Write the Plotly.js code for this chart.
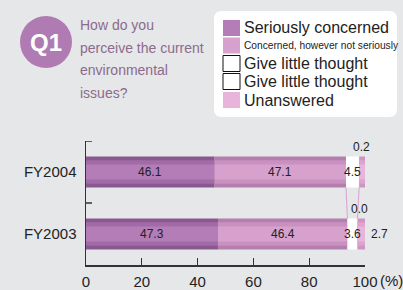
<!DOCTYPE html>
<html>
<head>
<meta charset="utf-8">
<script src="https://cdn.plot.ly/plotly-3.0.1.min.js"></script>
<style>
html,body{margin:0;padding:0;background:#e6e7e9;}
#chart{width:403px;height:290px;}
</style>
</head>
<body>
<div id="chart"></div>
<script>
// ---- data ----
const years = ["FY2004", "FY2003"];
const seriesNames = ["Seriously concerned", "Concerned, however not seriously", "Give little thought", "Give little thought", "Unanswered"];
const seriously = [46.1, 47.3];
const concerned = [47.1, 46.4];
const littleA = [4.5, 3.6];
const littleB = [0.2, 0.0];
const unanswered = [2.2, 2.7];
const xTicks = [0, 20, 40, 60, 80, 100];
const questionLines = ["How do you", "perceive the current", "environmental", "issues?"];

// ---- styles ----
const FONT = "Liberation Sans, Arial, sans-serif";
const edgeCols = ["#8a5891", "#b47fae", "#ffffff", "#ffffff", "#cf94c3"];
const midCols  = ["#a06ba6", "#c991c0", "#ffffff", "#ffffff", "#dea4d0"];
const ctrCols  = ["#b57db8", "#d7a1cd", "#ffffff", "#ffffff", "#e9b4da"];
const series = [seriously, concerned, littleA, littleB, unanswered];

const traces = [];
const cum = years.map(() => 0);
const starts = [];
series.forEach((vals, si) => {
  const base = cum.slice();
  starts.push(base);
  const layers = (si === 2 || si === 3) ? [[0.5, edgeCols[si]]] :
    [[0.5, edgeCols[si]], [0.38, midCols[si]], [0.24, ctrCols[si]]];
  layers.forEach(([w, c]) => {
    traces.push({
      type: "bar", orientation: "h", y: years, x: vals, base: base,
      width: w, marker: {color: c, line: {width: 0}},
      showlegend: false, hoverinfo: "skip"
    });
  });
  vals.forEach((v, i) => cum[i] += v);
});

// connector lines between bars
const conn2 = [starts[2][0], starts[2][1]];
const conn4 = [starts[4][0], starts[4][1]];
[conn2, conn4].forEach(xs => {
  traces.push({
    type: "scatter", mode: "lines", x: xs, y: [0.25, 0.75],
    xaxis: "x", yaxis: "y2",
    line: {color: "#d9a3d0", width: 1}, showlegend: false, hoverinfo: "skip"
  });
});

const annotations = [];
years.forEach((yr, i) => {
  const lab = (x, txt, opts) => annotations.push(Object.assign({
    x: x, y: i, xref: "x", yref: "y", text: txt, showarrow: false,
    font: {family: FONT, size: 12, color: "#222"}
  }, opts || {}));
  lab(starts[0][i] + seriously[i] / 2, seriously[i].toFixed(1));
  lab(starts[1][i] + concerned[i] / 2, concerned[i].toFixed(1));
  lab(starts[2][i] + littleA[i] / 2, littleA[i].toFixed(1));
  lab(starts[4][i] + 0.9, littleB[i].toFixed(1), {y: i - 0.25, yanchor: "bottom", yshift: 1});
  lab(starts[4][i] + unanswered[i], unanswered[i].toFixed(1), {xanchor: "left", xshift: 4});
});
// (%) unit
annotations.push({x: 100, y: 0, xref: "x", yref: "paper", text: "(%)", showarrow: false,
  xanchor: "left", yanchor: "top", xshift: 13, yshift: -5,
  font: {family: FONT, size: 15, color: "#222"}});

// question text
questionLines.forEach((t, k) => annotations.push({
  x: 78, y: 25 + k * 22.6, text: t, showarrow: false,
  xanchor: "left", yanchor: "middle",
  font: {family: FONT, size: 14, color: "#8c6b8c"}
}));
// Q1 label
annotations.push({x: 46, y: 42, text: "<b>Q1</b>", showarrow: false, xanchor: "center", yanchor: "middle",
  font: {family: FONT, size: 24, color: "#ffffff"}});

// legend (manual)
const shapes = [];
const legRows = [28, 45.5, 63.5, 81.5, 100];
const swatch = [ctrCols[0], ctrCols[1], "#ffffff", "#ffffff", ctrCols[4]];
shapes.push({type: "path",
  path: "M 222 11 L 389 11 Q 397 11 397 19 L 397 109 Q 397 117 389 117 L 222 117 Q 214 117 214 109 L 214 19 Q 214 11 222 11 Z",
  fillcolor: "#ffffff", line: {width: 0}, layer: "below"});
legRows.forEach((cy, k) => {
  const white = (k === 2 || k === 3);
  shapes.push({type: "rect", x0: 223, x1: 240, y0: cy - 8, y1: cy + 8,
    fillcolor: swatch[k], line: {width: white ? 1 : 0, color: "#111"}});
  annotations.push({x: 242, y: cy, text: seriesNames[k], showarrow: false, xanchor: "left", yanchor: "middle",
    font: {family: FONT, size: k === 1 ? 10.2 : 16, color: "#222"}});
});
// Q1 circle
shapes.push({type: "circle", x0: 20, x1: 72, y0: 16, y1: 68,
  fillcolor: "#b07bb2", line: {width: 0}});

// convert pixel positions of decorations to paper coords
const W = 403, H = 290, ML = 86, MR = 38, MT = 141, MB = 25;
const pw = W - ML - MR, ph = H - MT - MB;
const px = x => (x - ML) / pw;
const py = y => (H - MB - y) / ph;
shapes.forEach(s => {
  s.xref = "paper"; s.yref = "paper";
  if (s.path) {
    s.path = s.path.replace(/(-?\d+\.?\d*) (-?\d+\.?\d*)/g, (m, a, b) => px(+a) + " " + py(+b));
  } else {
    s.x0 = px(s.x0); s.x1 = px(s.x1);
    const a = py(s.y0), b = py(s.y1); s.y0 = Math.min(a, b); s.y1 = Math.max(a, b);
  }
});
annotations.forEach(a => {
  if (a.xref === undefined) { a.xref = "paper"; a.yref = "paper"; a.x = px(a.x); a.y = py(a.y); }
});

// y-axis category boundary ticks (pointing inward)
[-0.5, 0.5].forEach(b => shapes.push({type: "line", xref: "paper", yref: "y2",
  x0: 0, x1: 6 / pw, y0: b, y1: b, line: {color: "#333", width: 1.5}}));

const YR = [1.5, -0.5];
const layout = {
  width: W, height: H,
  margin: {l: ML, r: MR, t: MT, b: MB, pad: 0},
  paper_bgcolor: "#e6e7e9", plot_bgcolor: "rgba(0,0,0,0)",
  barmode: "overlay", showlegend: false,
  font: {family: FONT, size: 15, color: "#222"},
  xaxis: {range: [0, 100], tickvals: xTicks, ticktext: xTicks.map(String),
    ticks: "inside", ticklen: 7, tickwidth: 1.3, tickcolor: "#333",
    showline: true, linecolor: "#333", linewidth: 1.5, showgrid: false, zeroline: false,
    tickfont: {family: FONT, size: 15, color: "#222"}, ticklabelstandoff: 2, fixedrange: true},
  yaxis: {type: "category", categoryarray: years, range: YR,
    ticks: "", showline: true, linecolor: "#333", linewidth: 1.5, showgrid: false, zeroline: false,
    tickfont: {family: FONT, size: 15, color: "#222"}, ticklabelstandoff: 5, fixedrange: true},
  yaxis2: {overlaying: "y", range: YR, visible: false, fixedrange: true},
  shapes: shapes, annotations: annotations
};

Plotly.newPlot("chart", traces, layout, {displayModeBar: false, staticPlot: true});
</script>
</body>
</html>
